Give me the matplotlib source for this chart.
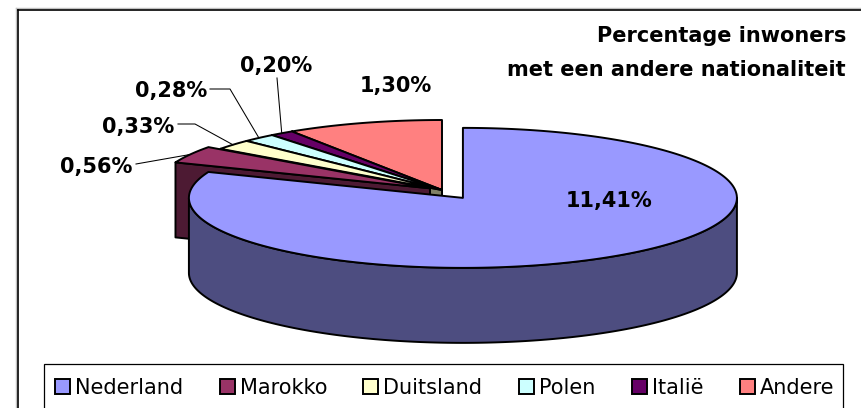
import numpy as np
import matplotlib
matplotlib.use('Agg')
import matplotlib.pyplot as plt
from matplotlib.patches import Polygon, Rectangle
from matplotlib.colors import to_rgb

# ---------------- data ----------------
categories = ['Nederland', 'Marokko', 'Duitsland', 'Polen', 'Italië', 'Andere']
values = [11.41, 0.56, 0.33, 0.28, 0.20, 1.30]
value_labels = ['11,41%', '0,56%', '0,33%', '0,28%', '0,20%', '1,30%']
colors = ['#9999FF', '#993366', '#FFFFCC', '#CCFFFF', '#660066', '#FF8080']
title_lines = ['Percentage inwoners', 'met een andere nationaliteit']

# ---------------- figure ----------------
W, H = 861, 408
fig = plt.figure(figsize=(W / 100, H / 100), dpi=100)
ax = fig.add_axes([0, 0, 1, 1])
ax.set_xlim(0, W)
ax.set_ylim(H, 0)
ax.axis('off')

FONT = 'DejaVu Sans'
CX, CY = 442, 190      # pie centre (pixels)
RX, RY = 274, 70       # ellipse radii
DEPTH = 75             # 3D thickness
explode = [0.136, 0.05, 0, 0, 0, 0]
LW = 1.4

fracs = np.array(values) / np.sum(values)
starts = np.concatenate([[0], np.cumsum(fracs)[:-1]]) * 360
ends = starts + fracs * 360


def shade(c, f=0.5):
    return tuple(np.array(to_rgb(c)) * f)


def center(i):
    mid = np.radians((starts[i] + ends[i]) / 2)
    return (CX + explode[i] * RX * np.sin(mid), CY - explode[i] * RY * np.cos(mid))


def rim(c, th_deg, dz=0.0, r=1.0):
    th = np.radians(th_deg)
    return (c[0] + r * RX * np.sin(th), c[1] - r * RY * np.cos(th) + dz)


def draw_slice(i):
    c = center(i)
    a0, a1 = starts[i], ends[i]
    side = shade(colors[i])
    # radial faces
    for th, is_start in ((a0, True), (a1, False)):
        s = np.sin(np.radians(th))
        vis = (s < -1e-9) if is_start else (s > 1e-9)
        if vis:
            po = rim(c, th)
            poly = [c, po, (po[0], po[1] + DEPTH), (c[0], c[1] + DEPTH)]
            ax.add_patch(Polygon(poly, closed=True, fc=side, ec='black', lw=LW,
                                 joinstyle='round'))
    # outer side (front half only)
    lo, hi = max(a0, 90), min(a1, 270)
    if hi > lo:
        th = np.linspace(lo, hi, 200)
        top = [rim(c, t) for t in th]
        bot = [rim(c, t, DEPTH) for t in th[::-1]]
        ax.add_patch(Polygon(top + bot, closed=True, fc=side, ec='black', lw=LW,
                             joinstyle='round'))
    # top face
    th = np.linspace(a0, a1, max(int((a1 - a0) * 2), 6))
    pts = [c] + [rim(c, t) for t in th]
    ax.add_patch(Polygon(pts, closed=True, fc=colors[i], ec='black', lw=LW,
                         joinstyle='round'))


for i in range(len(values) - 1, 0, -1):
    draw_slice(i)
draw_slice(0)

# ---------------- data labels ----------------
label_pos = {0: (609, 207), 1: (96, 173), 2: (138, 133), 3: (171, 97),
             4: (276, 72), 5: (396, 92)}
for i, (x, y) in label_pos.items():
    ax.text(x, y, value_labels[i], ha='center', va='baseline', fontsize=15,
            fontweight='bold', family=FONT, color='black')

# leader lines (label side points, then rim midpoint of slice)
leader_pts = {1: [(136, 164)], 2: [(178, 124), (195, 124)],
              3: [(210, 89), (230, 89)], 4: [(277, 78)]}
for i, pts in leader_pts.items():
    mid = (starts[i] + ends[i]) / 2
    end = rim(center(i), mid)
    xs = [p[0] for p in pts] + [end[0]]
    ys = [p[1] for p in pts] + [end[1]]
    ax.plot(xs, ys, color='black', lw=0.75, solid_joinstyle='miter')

# ---------------- title ----------------
ax.text(846, 42, title_lines[0], ha='right', va='baseline', fontsize=15,
        fontweight='bold', family=FONT)
ax.text(846, 76, title_lines[1], ha='right', va='baseline', fontsize=15,
        fontweight='bold', family=FONT)

# ---------------- chart border ----------------
ax.plot([16, 16], [H + 5, 8], color='#c0c0c0', lw=1.0)
ax.plot([16, W + 5], [8, 8], color='#c0c0c0', lw=1.0)
ax.plot([18, 18], [H + 5, 10], color='black', lw=1.2)
ax.plot([18, W + 5], [10, 10], color='black', lw=1.2)

# ---------------- legend ----------------
LX0, LX1, LY0 = 44, 843, 364
ax.add_patch(Rectangle((LX0, LY0), LX1 - LX0, 60, fc='white', ec='black', lw=0.9))

fig.canvas.draw()
renderer = fig.canvas.get_renderer()
texts = []
widths = []
for name in categories:
    t = ax.text(0, 394, name, ha='left', va='baseline', fontsize=15, family=FONT)
    texts.append(t)
    widths.append(t.get_window_extent(renderer).width)

MK = 15          # marker size
MG = 5           # marker-text gap
x_first, x_last_end = 55, 834
total = sum(widths) + len(categories) * (MK + MG)
gap = (x_last_end - x_first - total) / (len(categories) - 1)
x = x_first
for name, col, t, w in zip(categories, colors, texts, widths):
    ax.add_patch(Rectangle((x, 379), MK, MK, fc=col, ec='black', lw=1.4))
    t.set_x(x + MK + MG)
    x += MK + MG + w + gap

fig.savefig('out.png', dpi=100)
